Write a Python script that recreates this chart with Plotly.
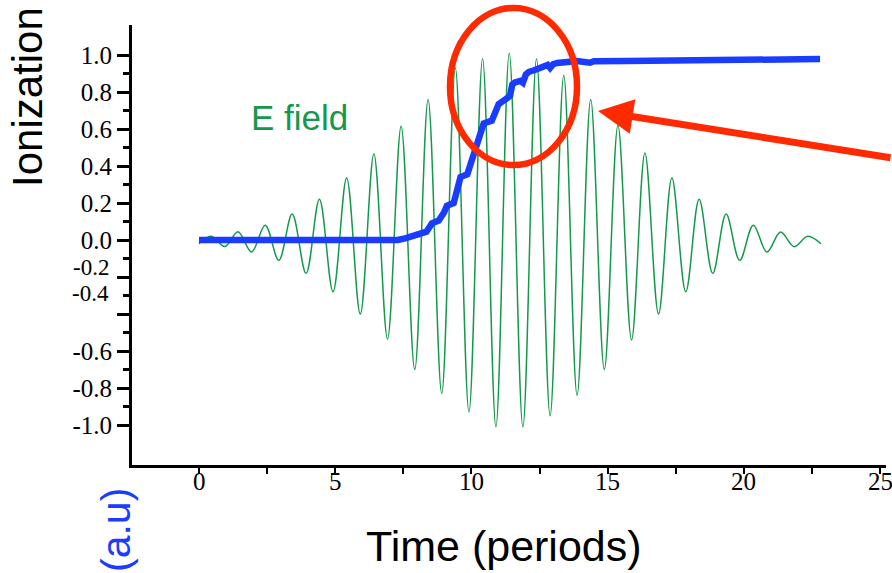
import plotly.graph_objects as go

# ---- data ----
# E field: extrema (time in periods, field in a.u.)
efield_t = [0.0, 0.45, 0.95, 1.43, 1.93, 2.43, 2.93, 3.42, 3.93, 4.42, 4.92,
            5.42, 5.92, 6.42, 6.92, 7.42, 7.92, 8.41, 8.91, 9.41, 9.91,
            10.41, 10.9, 11.39, 11.89, 12.39, 12.89, 13.39, 13.88, 14.38, 14.88,
            15.38, 15.88, 16.37, 16.87, 17.36, 17.87, 18.36, 18.86, 19.35, 19.85,
            20.35, 20.85, 21.35, 21.85, 22.35, 22.83]
efield_v = [-0.02, 0.02, -0.035, 0.045, -0.065, 0.08, -0.11, 0.14, -0.18, 0.22, -0.28,
            0.335, -0.40, 0.465, -0.535, 0.615, -0.70, 0.76, -0.83, 0.93, -0.93,
            0.98, -1.01, 1.01, -1.01, 0.98, -0.95, 0.89, -0.84, 0.76, -0.70,
            0.62, -0.54, 0.47, -0.40, 0.335, -0.28, 0.22, -0.18, 0.14, -0.11,
            0.08, -0.065, 0.043, -0.036, 0.02, -0.02]

# Ionization (staircase)
ion_t = [0.0, 7.3, 7.6, 8.0, 8.35, 8.55, 8.8, 9.0, 9.1, 9.35, 9.5, 9.6, 9.85,
         10.0, 10.3, 10.45, 10.75, 10.9, 11.0, 11.3, 11.42, 11.5, 11.6, 11.8, 11.89,
         12.0, 12.1, 12.35, 12.55, 12.8, 12.89, 13.0, 13.15, 13.5, 13.88, 14.35,
         14.5, 15.7, 18.4, 22.8]
ion_v = [0.0, 0.0, 0.01, 0.03, 0.045, 0.09, 0.105, 0.15, 0.185, 0.2, 0.3, 0.34, 0.355,
         0.43, 0.56, 0.63, 0.645, 0.70, 0.735, 0.765, 0.78, 0.84, 0.852, 0.86, 0.85,
         0.895, 0.908, 0.92, 0.935, 0.946, 0.93, 0.95, 0.957, 0.962, 0.968, 0.958,
         0.966, 0.968, 0.973, 0.978]

x_tickvals = [0, 2.5, 5, 7.5, 10, 12.5, 15, 17.5, 20, 22.5, 25]
x_labelvals = [0, 5, 10, 15, 20, 25]
x_labeltext = ['0', '5', '10', '15', '20', '25']
y_tickvals = [1.0, 0.8, 0.6, 0.4, 0.2, 0.0, -0.2, -0.4, -0.6, -0.8, -1.0]
y_ticktext = ['1.0', '0.8', '0.6', '0.4', '0.2', '0.0', '', '', '-0.6', '-0.8', '-1.0']
y_minorvals = [0.9, 0.7, 0.5, 0.3, 0.1, -0.1, -0.3, -0.5, -0.7, -0.9]
shifted_labels = ['-0.2', '-0.4']
shifted_label_y = [-0.148, -0.288]

# ---- figure ----
W, H = 892, 573
ML, MR, MT, MB = 132, 6, 25, 108
PW, PH = W - ML - MR, H - MT - MB

def px_x(px):
    return (px - ML) / PW

def px_y(py):
    return (H - MB - py) / PH

GREEN = '#14994c'
BLUE = '#1a3cff'
RED = '#ff2a00'
SERIF = 'Liberation Serif'
SANS = 'Liberation Sans'

fig = go.Figure()
fig.add_trace(go.Scatter(x=efield_t, y=efield_v, mode='lines',
                         line=dict(color=GREEN, width=1.5, shape='spline', smoothing=1.0),
                         hoverinfo='skip', showlegend=False))
fig.add_trace(go.Scatter(x=ion_t, y=ion_v, mode='lines',
                         line=dict(color=BLUE, width=6.5),
                         hoverinfo='skip', showlegend=False))

annotations = []
for txt, yy in zip(shifted_labels, shifted_label_y):
    annotations.append(dict(text=txt, xref='paper', yref='y', x=0, y=yy,
                            xanchor='right', yanchor='middle', xshift=-22,
                            borderpad=0,
                            showarrow=False, font=dict(family=SERIF, size=23, color='black')))
for txt, xx in zip(x_labeltext, x_labelvals):
    annotations.append(dict(text=txt, xref='x', yref='paper', x=xx, y=0,
                            xanchor='center', yanchor='top', yshift=-1,
                            showarrow=False, font=dict(family=SERIF, size=25, color='black')))
annotations += [
    dict(text='Ionization', xref='paper', yref='paper', x=px_x(27), y=px_y(97),
         textangle=-90, showarrow=False, xanchor='center', yanchor='middle',
         font=dict(family=SANS, size=42, color='black')),
    dict(text='(a.u)', xref='paper', yref='paper', x=px_x(116), y=px_y(530),
         textangle=-90, showarrow=False, xanchor='center', yanchor='middle',
         font=dict(family=SANS, size=41, color=BLUE)),
    dict(text='Time (periods)', xref='paper', yref='paper', x=px_x(504), y=px_y(546),
         showarrow=False, xanchor='center', yanchor='middle',
         font=dict(family=SANS, size=43, color='black')),
    dict(text='E field', xref='paper', yref='paper', x=px_x(299), y=px_y(118),
         showarrow=False, xanchor='center', yanchor='middle',
         font=dict(family=SANS, size=35, color=GREEN)),
    dict(text='', xref='paper', yref='paper', x=px_x(598), y=px_y(111),
         ax=302, ay=47, showarrow=True, arrowhead=2, arrowsize=1, arrowwidth=7,
         arrowcolor=RED, standoff=0),
]

fig.update_layout(
    width=W, height=H,
    margin=dict(l=ML, r=MR, t=MT, b=MB, pad=0),
    paper_bgcolor='white', plot_bgcolor='white',
    showlegend=False,
    xaxis=dict(range=[(ML - 199) / 27.24, (W - MR - 199) / 27.24],
               showgrid=False, zeroline=False, showline=True, linecolor='black', linewidth=3,
               ticks='outside', ticklen=6, tickwidth=2, tickcolor='black',
               tickmode='array', tickvals=x_tickvals, ticktext=[''] * len(x_tickvals),
               showticklabels=True),
    yaxis=dict(range=[(240 - (H - MB)) / 185, (240 - MT) / 185],
               showgrid=False, zeroline=False, showline=True, linecolor='black', linewidth=3,
               ticks='outside', ticklen=12, tickwidth=3, tickcolor='black',
               tickmode='array', tickvals=y_tickvals, ticktext=y_ticktext,
               minor=dict(tickmode='array', tickvals=y_minorvals, ticks='outside',
                          ticklen=6, tickwidth=3, tickcolor='black'),
               tickfont=dict(family=SERIF, size=25, color='black')),
    shapes=[dict(type='circle', xref='paper', yref='paper',
                 x0=px_x(450), x1=px_x(577), y0=px_y(165), y1=px_y(8),
                 line=dict(color=RED, width=6.5))],
    annotations=annotations,
)

fig.write_html('out.html')
